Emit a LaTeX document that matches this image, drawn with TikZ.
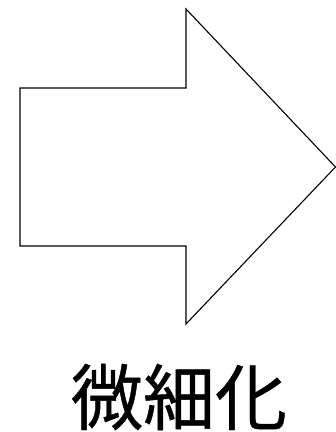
\documentclass[tikz,border=0pt]{standalone}
\usepackage{fontspec}
\newfontfamily\cjkfont[FakeBold=0.6]{Noto Sans CJK JP}
\tikzset{
  bigarrow/.style={draw=black, fill=white, line width=1.1pt, line join=miter},
  caption/.style={font=\cjkfont\fontsize{72}{74}\selectfont, text=black, inner sep=0pt}
}
\begin{document}
\begin{tikzpicture}[x=1pt,y=1pt]
\useasboundingbox (0,0) rectangle (336,432);

% ---------------- Arrow ----------------
\draw[bigarrow] (20,344) -- (186,344) -- (186,423) -- (335.5,265)
  -- (186,108) -- (186,186) -- (20,186) -- cycle;

% ---------------- Caption ----------------
\node[caption] (shrink) at (179,35) {微細化};

\end{tikzpicture}
\end{document}
